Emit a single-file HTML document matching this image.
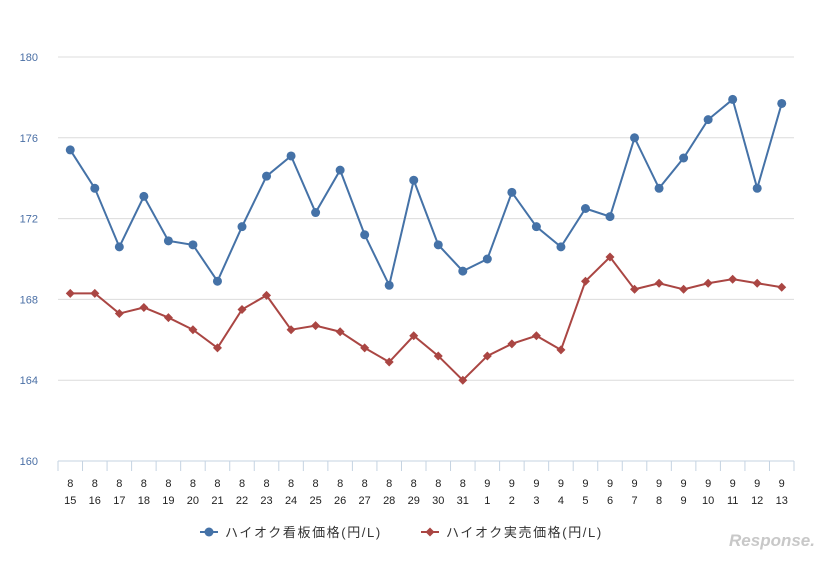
<!DOCTYPE html>
<html><head><meta charset="utf-8"><style>
body{margin:0;background:#fff;font-family:"Liberation Sans","Noto Sans CJK JP",sans-serif;}
svg text{font-family:"Liberation Sans","Noto Sans CJK JP",sans-serif;}
</style></head><body>
<svg id="chart" width="830" height="560"></svg>
<script>
const days=["15","16","17","18","19","20","21","22","23","24","25","26","27","28","29","30","31","1","2","3","4","5","6","7","8","9","10","11","12","13"];
const months=["8","8","8","8","8","8","8","8","8","8","8","8","8","8","8","8","8","9","9","9","9","9","9","9","9","9","9","9","9","9"];
const signPrice=[175.4,173.5,170.6,173.1,170.9,170.7,168.9,171.6,174.1,175.1,172.3,174.4,171.2,168.7,173.9,170.7,169.4,170.0,173.3,171.6,170.6,172.5,172.1,176.0,173.5,175.0,176.9,177.9,173.5,177.7];
const actualPrice=[168.3,168.3,167.3,167.6,167.1,166.5,165.6,167.5,168.2,166.5,166.7,166.4,165.6,164.9,166.2,165.2,164.0,165.2,165.8,166.2,165.5,168.9,170.1,168.5,168.8,168.5,168.8,169.0,168.8,168.6];
const yTicks=[160,164,168,172,176,180];
const NS="http://www.w3.org/2000/svg";
const svg=document.getElementById('chart');
const x0=58,x1=794,yTop=57,yBot=461,yMin=160,yMax=180;
const band=(x1-x0)/days.length;
const X=i=>x0+band*(i+0.5);
const Y=v=>yBot-(v-yMin)/(yMax-yMin)*(yBot-yTop);
function mk(t,a,p){const e=document.createElementNS(NS,t);for(const k in a)e.setAttribute(k,a[k]);(p||svg).appendChild(e);return e;}
yTicks.forEach(v=>{
  const g=mk('line',{x1:x0,x2:x1,y1:Y(v),y2:Y(v),stroke:v===160?'#c5d3e2':'#dcdcdc','stroke-width':1});
  
  
  const t=mk('text',{x:38,y:Y(v)+4,'text-anchor':'end','font-size':11,fill:'#4a6fa5'});
  t.textContent=v;
  
  
});
for(let i=0;i<=days.length;i++){
  const tk=mk('line',{x1:x0+band*i,x2:x0+band*i,y1:yBot,y2:yBot+10,stroke:'#c5d3e2'});
  
  
}
days.forEach((d,i)=>{
  const t1=mk('text',{x:X(i),y:487,'text-anchor':'middle','font-size':11,fill:'#222'});t1.textContent=months[i];
  
  
  const t2=mk('text',{x:X(i),y:504,'text-anchor':'middle','font-size':11,fill:'#222'});t2.textContent=d;
  
  
});
function series(vals,color,marker,name){
  const p=mk('polyline',{points:vals.map((v,i)=>X(i)+','+Y(v)).join(' '),fill:'none',stroke:color,'stroke-width':2});
  
  
  vals.forEach((v,i)=>{
    let m;
    if(marker==='circle')m=mk('circle',{cx:X(i),cy:Y(v),r:4.5,fill:color});
    else {const cx=X(i),cy=Y(v);m=mk('polygon',{points:`${cx},${cy-4.5} ${cx+4.5},${cy} ${cx},${cy+4.5} ${cx-4.5},${cy}`,fill:color});}
    
    
  });
}
series(signPrice,'#4572a7','circle','sign-price');
series(actualPrice,'#aa4643','diamond','actual-price');
const lg=mk('g',{});


mk('line',{x1:200,x2:218,y1:532,y2:532,stroke:'#4572a7','stroke-width':2},lg);
mk('circle',{cx:209,cy:532,r:4.5,fill:'#4572a7'},lg);
const l1=mk('text',{x:225,y:537,'font-size':13,'letter-spacing':'1.6',fill:'#333'},lg);l1.textContent='ハイオク看板価格(円/L)';


mk('line',{x1:421,x2:439,y1:532,y2:532,stroke:'#aa4643','stroke-width':2},lg);
mk('polygon',{points:'430,527.5 434.5,532 430,536.5 425.5,532',fill:'#aa4643'},lg);
const l2=mk('text',{x:446,y:537,'font-size':13,'letter-spacing':'1.6',fill:'#333'},lg);l2.textContent='ハイオク実売価格(円/L)';


const logo=mk('text',{x:815,y:546,'text-anchor':'end','font-size':17,'font-style':'italic','font-weight':'bold',fill:'#c8c8c8'});
logo.textContent='Response.';


</script>
</body></html>
